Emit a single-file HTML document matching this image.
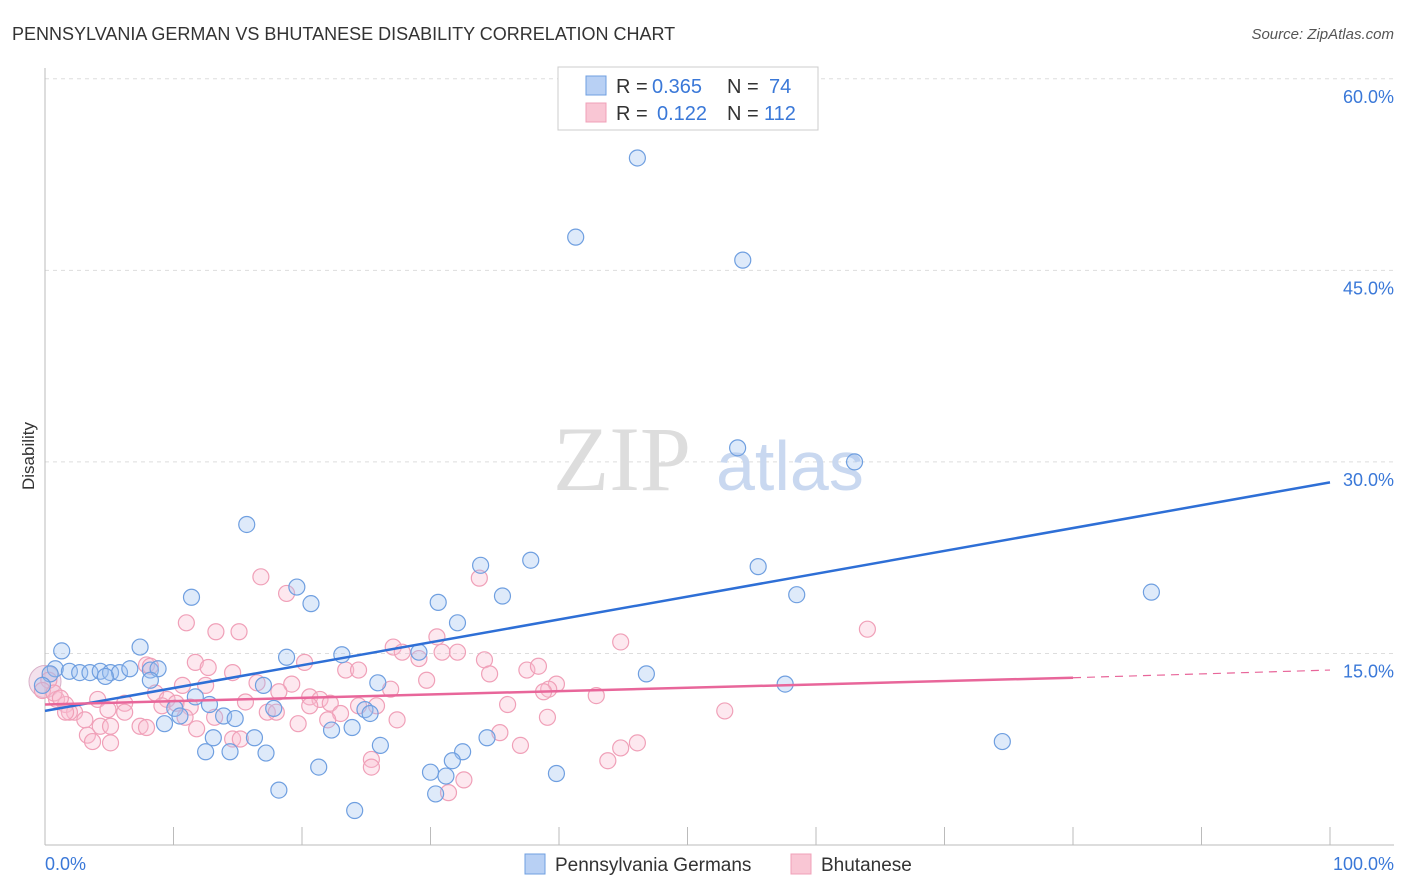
<!DOCTYPE html>
<html><head><meta charset="utf-8"><style>
body{margin:0;background:#fff;font-family:"Liberation Sans",sans-serif;}
svg{display:block}
</style></head><body>
<svg width="1406" height="892" xmlns="http://www.w3.org/2000/svg">
<text x="12" y="40" font-size="18" fill="#333">PENNSYLVANIA GERMAN VS BHUTANESE DISABILITY CORRELATION CHART</text>
<text x="1394" y="39" font-size="15" fill="#555" font-style="italic" text-anchor="end">Source: ZipAtlas.com</text>
<text x="34" y="456" font-size="17" fill="#333" text-anchor="middle" transform="rotate(-90 34 456)">Disability</text>
<g id="grid"></g>
<text x="553" y="490" font-size="92" fill="#ddd" font-family="Liberation Serif">ZIP</text>
<text x="716" y="490" font-size="70" fill="#c9d8f0">atlas</text>
<g id="pts"></g>
<g id="trend"></g>
<rect x="558" y="67" width="260" height="63" fill="#fff" stroke="#ccc"/>
<rect x="586" y="76" width="20" height="19" fill="#b8d0f4" stroke="#6f9fe0"/>
<rect x="586" y="103" width="20" height="19" fill="#f9c6d4" stroke="#f0a0b8"/>
<g font-size="20">
<text x="616" y="93" fill="#333">R =</text><text x="652" y="93" fill="#3a78d8">0.365</text>
<text x="727" y="93" fill="#333">N =</text><text x="769" y="93" fill="#3a78d8">74</text></g>
<g font-size="20">
<text x="616" y="120" fill="#333">R =</text><text x="657" y="120" fill="#3a78d8">0.122</text>
<text x="727" y="120" fill="#333">N =</text><text x="764" y="120" fill="#3a78d8">112</text></g>
<text x="45" y="870" font-size="18" fill="#3a78d8">0.0%</text>
<text x="1394" y="870" font-size="18" fill="#3a78d8" text-anchor="end">100.0%</text>
<rect x="525" y="854" width="20" height="20" fill="#b8d0f4" stroke="#6f9fe0"/>
<text x="555" y="871" font-size="19" fill="#333">Pennsylvania Germans</text>
<rect x="791" y="854" width="20" height="20" fill="#f9c6d4" stroke="#f0a0b8"/>
<text x="821" y="871" font-size="19" fill="#333">Bhutanese</text>
</svg>
<script>
const yTicks=[15,30,45,60];
const yTickLabels=["15.0%","30.0%","45.0%","60.0%"];
const blueX=[46.1,41.3,54.3,53.9,63,15.7,37.8,33.9,55.5,19.6,11.4,35.6,58.5,86.1,20.7,30.6,32.1,7.4,1.3,23.1,29.1,18.8,0.8,1.9,2.7,3.5,4.3,5.1,5.8,6.6,8.2,8.8,4.7,8.2,17.0,25.9,46.8,57.6,11.7,12.8,17.8,24.9,25.3,10.1,10.5,13.9,14.8,9.3,22.3,23.9,16.3,13.1,34.4,26.1,32.5,12.5,14.4,17.2,31.7,21.3,30.0,31.2,39.8,74.5,18.2,30.4,24.1,0.4,-0.2];
const blueY=[53.8,47.6,45.8,31.1,30.0,25.1,22.3,21.9,21.8,20.2,19.4,19.5,19.6,19.8,18.9,19.0,17.4,15.5,15.2,14.9,15.1,14.7,13.8,13.6,13.5,13.5,13.6,13.5,13.5,13.8,13.7,13.8,13.2,12.9,12.5,12.7,13.4,12.6,11.6,11.0,10.7,10.6,10.3,10.7,10.1,10.1,9.9,9.5,9.0,9.2,8.4,8.4,8.4,7.8,7.3,7.3,7.3,7.2,6.6,6.1,5.7,5.4,5.6,8.1,4.3,4.0,2.7,13.4,12.5];
const pinkX=[16.8,33.8,18.8,11.0,13.3,15.1,64.0,30.5,44.8,27.1,27.8,30.9,32.1,29.1,34.2,11.7,20.2,12.7,7.9,8.2,14.6,23.4,24.4,37.5,38.4,34.6,29.7,16.5,12.5,10.7,19.2,39.8,39.2,38.8,26.9,18.2,42.9,20.6,21.4,22.2,6.2,4.1,8.6,9.5,10.2,15.6,9.1,20.6,24.4,25.8,36.0,17.3,18.0,23.0,27.4,13.2,39.1,52.9,11.3,4.9,6.2,0.9,1.6,2.3,3.1,1.9,4.3,5.1,7.4,7.9,10.9,19.7,22.0,14.6,15.2,3.3,3.7,5.1,11.8,35.4,37.0,46.1,44.8,43.8,25.4,25.4,32.6,31.4,0.3,-0.2,0.7,1.2,1.6];
const pinkY=[21.0,20.9,19.7,17.4,16.7,16.7,16.9,16.3,15.9,15.5,15.1,15.1,15.1,14.6,14.5,14.3,14.3,13.9,14.1,14.0,13.5,13.7,13.7,13.7,14.0,13.4,12.9,12.7,12.5,12.5,12.6,12.6,12.2,12.0,12.2,12.0,11.7,11.6,11.4,11.1,11.1,11.4,11.9,11.4,11.1,11.2,10.9,10.9,10.9,10.9,11.0,10.4,10.4,10.3,9.8,10.0,10.0,10.5,10.8,10.6,10.4,11.4,11.0,10.4,9.8,10.4,9.3,9.3,9.3,9.2,10.0,9.5,9.8,8.3,8.3,8.6,8.1,8.0,9.1,8.8,7.8,8.0,7.6,6.6,6.7,6.1,5.1,4.1,12.9,12.1,11.9,11.5,10.4];
const X0=45,X1=1330,Y0=845,PER=12.77;
const sx=v=>X0+v/100*(X1-X0), sy=v=>Y0-v*PER;
const NS="http://www.w3.org/2000/svg";
function mk(t,a,p){const e=document.createElementNS(NS,t);for(const k in a)e.setAttribute(k,a[k]);p.appendChild(e);return e;}
const g=document.getElementById('grid');
yTicks.forEach((t,i)=>{
 const l=mk('line',{x1:X0,x2:1394,y1:sy(t),y2:sy(t),stroke:'#ddd','stroke-dasharray':'4,4'},g);
 
 
 const tx=mk('text',{x:1394,y:sy(t)+24,'font-size':18,fill:'#3a78d8','text-anchor':'end'},g);
 tx.textContent=yTickLabels[i];
 
 
});
const ax=mk('line',{x1:X0,x2:1394,y1:Y0,y2:Y0,stroke:'#bbb'},g);


const ay=mk('line',{x1:X0,x2:X0,y1:68,y2:Y0,stroke:'#bbb'},g);


for(let i=1;i<=10;i++){const tk=mk('line',{x1:sx(i*10),x2:sx(i*10),y1:Y0,y2:Y0-18,stroke:'#bbb'},g);
 
 }
const p=document.getElementById('pts');
const big=mk('circle',{cx:sx(0),cy:sy(12.8),r:16,fill:'rgba(220,170,200,0.35)',stroke:'#d8b0c8'},p);


pinkX.forEach((x,i)=>{const c=mk('circle',{cx:sx(x),cy:sy(pinkY[i]),r:8,fill:'rgba(249,190,208,0.35)',stroke:'#f0a0b8','stroke-width':1.2},p);
 
 });
blueX.forEach((x,i)=>{const c=mk('circle',{cx:sx(x),cy:sy(blueY[i]),r:8,fill:'rgba(160,195,240,0.35)',stroke:'#6f9fe0','stroke-width':1.2},p);
 
 });
const tr=document.getElementById('trend');
const bt=mk('line',{x1:sx(0),y1:sy(10.5),x2:sx(100),y2:sy(28.4),stroke:'#2e6fd6','stroke-width':2.5},tr);


const pt=mk('line',{x1:sx(0),y1:sy(11.0),x2:sx(80),y2:sy(13.1),stroke:'#e8669a','stroke-width':2.5},tr);


const pd=mk('line',{x1:sx(80),y1:sy(13.1),x2:sx(100),y2:sy(13.7),stroke:'#e8669a','stroke-width':1.2,'stroke-dasharray':'8,6'},tr);


</script>
</body></html>
